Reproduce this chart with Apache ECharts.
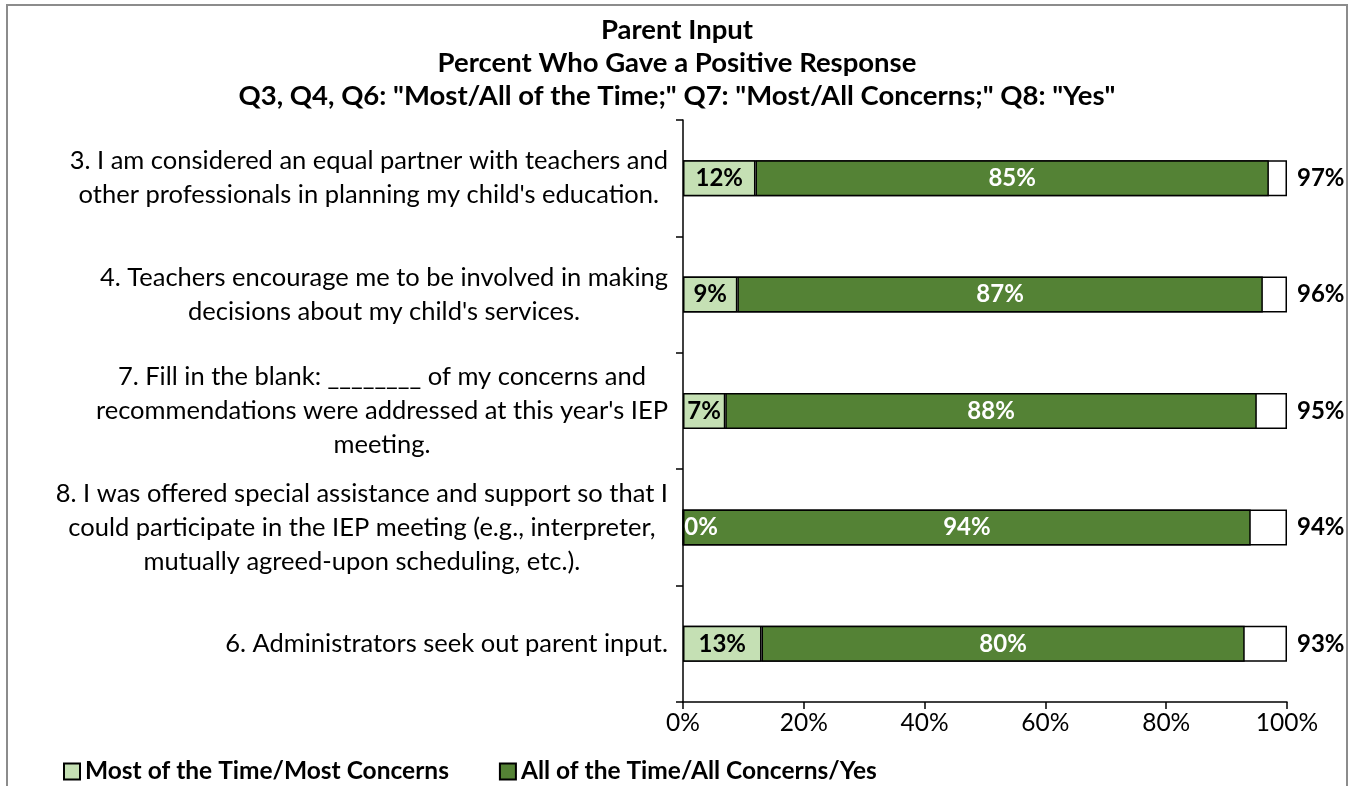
<!DOCTYPE html>
<html>
<head>
<meta charset="utf-8">
<script src="https://cdn.jsdelivr.net/npm/echarts@6/dist/echarts.min.js"></script>
<style>
  html, body { margin: 0; padding: 0; background: #ffffff; }
  #chart { width: 1354px; height: 786px; }
</style>
</head>
<body>
<div id="chart"></div>
<script>
// Survey items, listed top to bottom
const categories = [
  "3. I am considered an equal partner with teachers and\nother professionals in planning my child's education.",
  "4. Teachers encourage me to be involved in making\ndecisions about my child's services.",
  "7. Fill in the blank: ________ of my concerns and\nrecommendations were addressed at this year's IEP\nmeeting.",
  "8. I was offered special assistance and support so that I\ncould participate in the IEP meeting (e.g., interpreter,\nmutually agreed-upon scheduling, etc.).",
  "6. Administrators seek out parent input."
];

// Percent of parents per response level
const mostValues = [12, 9, 7, 0, 13];
const allValues = [85, 87, 88, 94, 80];

const seriesNames = ["Most of the Time/Most Concerns", "All of the Time/All Concerns/Yes"];

const titleLines = [
  "Parent Input",
  "Percent Who Gave a Positive Response",
  "Q3, Q4, Q6: \"Most/All of the Time;\" Q7: \"Most/All Concerns;\" Q8: \"Yes\""
];

// Percent scale of the horizontal axis
const scaleMin = 0;
const scaleMax = 100;
const scaleStep = 20;

const FONT = "Lato, 'Noto Sans', sans-serif";

const chart = echarts.init(document.getElementById('chart'), null, { renderer: 'canvas' });

const barBorder = { borderColor: '#000000', borderWidth: 1.5 };

chart.setOption({
  animation: false,
  backgroundColor: '#ffffff',
  title: {
    text: titleLines.join('\n'),
    left: 'center',
    top: 9,
    textStyle: {
      fontFamily: FONT,
      fontSize: 27.5,
      fontWeight: 'bold',
      color: '#000000',
      lineHeight: 33
    }
  },
  graphic: [{
    type: 'rect',
    shape: { x: 7, y: 5, width: 1340, height: 800 },
    style: { fill: 'none', stroke: '#8c8c8c', lineWidth: 2 },
    silent: true,
    z: 0
  }],
  legend: {
    data: seriesNames,
    left: 58,
    top: 754,
    icon: 'rect',
    itemWidth: 16,
    itemHeight: 16,
    itemGap: 50,
    textStyle: { fontFamily: FONT, fontSize: 24.5, fontWeight: 'bold', color: '#000000' }
  },
  grid: { left: 683, right: 67, top: 120, bottom: 84, containLabel: false },
  xAxis: {
    type: 'value',
    min: scaleMin,
    max: scaleMax,
    interval: scaleStep,
    axisLine: { show: true, lineStyle: { color: '#000000', width: 1.5 } },
    axisTick: { show: true, length: 7, lineStyle: { color: '#000000', width: 1.5 } },
    splitLine: { show: false },
    axisLabel: {
      formatter: '{value}%',
      margin: 9,
      fontFamily: FONT,
      fontSize: 24.5,
      color: '#000000'
    }
  },
  yAxis: {
    type: 'category',
    data: categories,
    inverse: true,
    axisLine: { show: true, lineStyle: { color: '#000000', width: 1.5 } },
    axisTick: { show: true, length: 7, alignWithLabel: false, lineStyle: { color: '#000000', width: 1.5 } },
    splitLine: { show: false },
    axisLabel: {
      margin: 15,
      color: '#000000',
      fontFamily: FONT,
      fontSize: 25.5,
      lineHeight: 34,
      formatter: function (value) {
        return value.split('\n').map(function (line) { return '{c|' + line + '}'; }).join('\n');
      },
      rich: {
        c: { align: 'center', fontFamily: FONT, fontSize: 25.5, lineHeight: 34, color: '#000000' }
      }
    }
  },
  series: [
    {
      name: 'track',
      type: 'bar',
      barWidth: 36,
      barGap: '-100%',
      silent: true,
      z: 1,
      data: categories.map(function () { return scaleMax; }),
      itemStyle: Object.assign({ color: '#ffffff' }, barBorder),
      label: {
        show: true,
        position: 'right',
        distance: 10,
        fontFamily: FONT,
        fontSize: 24,
        fontWeight: 'bold',
        color: '#000000',
        formatter: function (p) { return (mostValues[p.dataIndex] + allValues[p.dataIndex]) + '%'; }
      }
    },
    {
      name: seriesNames[0],
      type: 'bar',
      stack: 'response',
      barWidth: 36,
      barGap: '-100%',
      z: 3,
      data: mostValues.map(function (v) {
        return v === 0
          ? { value: v, label: { color: '#ffffff', position: 'insideLeft', distance: 2 } }
          : v;
      }),
      itemStyle: Object.assign({ color: '#C5E0B4' }, barBorder),
      label: {
        show: true,
        position: 'inside',
        fontFamily: FONT,
        fontSize: 24,
        fontWeight: 'bold',
        color: '#000000',
        formatter: function (p) { return p.value + '%'; }
      }
    },
    {
      name: seriesNames[1],
      type: 'bar',
      stack: 'response',
      barWidth: 36,
      barGap: '-100%',
      z: 2,
      data: allValues,
      itemStyle: Object.assign({ color: '#548235' }, barBorder),
      label: {
        show: true,
        position: 'inside',
        fontFamily: FONT,
        fontSize: 24,
        fontWeight: 'bold',
        color: '#ffffff',
        formatter: function (p) { return p.value + '%'; }
      }
    }
  ]
});
</script>
</body>
</html>
